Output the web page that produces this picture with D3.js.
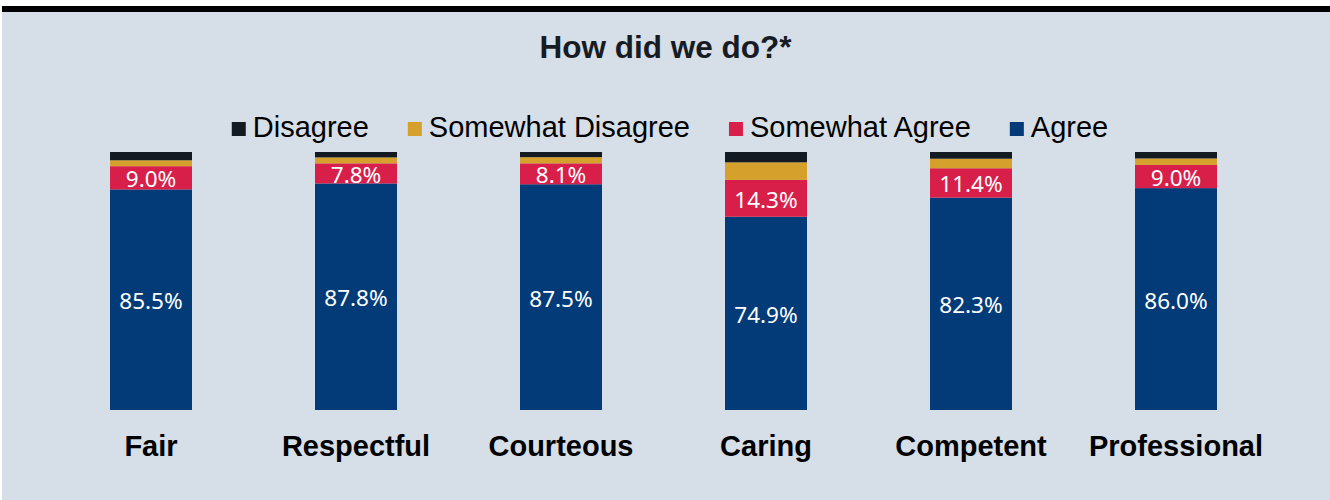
<!DOCTYPE html>
<html>
<head>
<meta charset="utf-8">
<script src="https://cdn.jsdelivr.net/npm/d3@7"></script>
<style>
  html, body { margin: 0; padding: 0; background: #ffffff; }
  svg { display: block; }
</style>
</head>
<body>
<svg id="chart" width="1330" height="500"></svg>
<script>
// Survey results, percent of responses per attribute
const categories = ["Fair", "Respectful", "Courteous", "Caring", "Competent", "Professional"];
const agree            = [85.5, 87.8, 87.5, 74.9, 82.3, 86.0];
const somewhatAgree    = [9.0, 7.8, 8.1, 14.3, 11.4, 9.0];
const somewhatDisagree = [2.3, 2.3, 2.4, 6.8, 3.7, 2.5];
const disagree         = [3.2, 2.1, 2.0, 4.0, 2.6, 2.5];

const seriesNames  = ["Agree", "Somewhat Agree", "Somewhat Disagree", "Disagree"];
const legendOrder  = ["Disagree", "Somewhat Disagree", "Somewhat Agree", "Agree"];
const labelled     = ["Agree", "Somewhat Agree"];
const colors = {
  "Agree": "#023b77",
  "Somewhat Agree": "#d71f4a",
  "Somewhat Disagree": "#d5a02b",
  "Disagree": "#141a22"
};

const rows = categories.map((c, i) => ({
  category: c,
  "Agree": agree[i],
  "Somewhat Agree": somewhatAgree[i],
  "Somewhat Disagree": somewhatDisagree[i],
  "Disagree": disagree[i]
}));

const svg = d3.select("#chart");
const W = 1330, H = 500;

// panel background with dark top rule
svg.append("rect").attr("x", 2).attr("y", 12).attr("width", W - 2).attr("height", H - 12).attr("fill", "#d6dee7");
svg.append("rect").attr("x", 2).attr("y", 6).attr("width", W - 2).attr("height", 6).attr("fill", "#000000");

// title
svg.append("text")
  .attr("x", 665.5).attr("y", 58)
  .attr("text-anchor", "middle")
  .attr("font-family", "Liberation Sans, Arial, sans-serif")
  .attr("font-weight", "bold")
  .attr("font-size", 31.5)
  .attr("fill", "#161b24")
  .text("How did we do?*");

const x = d3.scaleBand()
  .domain(categories)
  .range([48.5, 1278.5])
  .paddingInner(0.6)
  .paddingOuter(0.3);

const y = d3.scaleLinear().domain([0, 100]).range([410, 152]);

const stacked = d3.stack().keys(seriesNames)(rows);

const layers = svg.append("g").selectAll("g")
  .data(stacked)
  .join("g")
  .attr("fill", d => colors[d.key]);

layers.selectAll("rect")
  .data(d => d.map(v => ({ v, key: d.key })))
  .join("rect")
  .attr("x", d => x(d.v.data.category))
  .attr("width", x.bandwidth())
  .attr("y", d => y(d.v[1]))
  .attr("height", d => y(d.v[0]) - y(d.v[1]));

// value labels on the two agree segments
const labelLayers = stacked.filter(s => labelled.includes(s.key));
svg.append("g").selectAll("g")
  .data(labelLayers)
  .join("g")
  .selectAll("text")
  .data(d => d.map(v => ({ v, key: d.key })))
  .join("text")
  .attr("x", d => x(d.v.data.category) + x.bandwidth() / 2)
  .attr("y", d => (y(d.v[0]) + y(d.v[1])) / 2)
  .attr("dy", "0.42em")
  .attr("text-anchor", "middle")
  .attr("font-family", "Noto Sans, Open Sans, sans-serif")
  .attr("font-size", 22.5)
  .attr("fill", "#ffffff")
  .text(d => d3.format(".1f")(d.v.data[d.key]) + "%");

// category axis
const xAxis = svg.append("g")
  .attr("transform", "translate(0,410)")
  .call(d3.axisBottom(x).tickSize(0).tickPadding(0));
xAxis.select(".domain").remove();
xAxis.selectAll("text")
  .attr("y", 46)
  .attr("dy", "0")
  .attr("font-family", "Liberation Sans, Arial, sans-serif")
  .attr("font-weight", "bold")
  .attr("font-size", 29)
  .attr("fill", "#000000");

// legend laid out left to right, centred over the bars
const legend = svg.append("g");
const items = legend.selectAll("g").data(legendOrder).join("g");
items.append("rect")
  .attr("width", 14).attr("height", 14)
  .attr("y", 122)
  .attr("fill", d => colors[d]);
items.append("text")
  .attr("x", 21).attr("y", 137)
  .attr("font-family", "Liberation Sans, Arial, sans-serif")
  .attr("font-size", 29)
  .attr("fill", "#000000")
  .text(d => d);
let cursor = 0;
items.each(function () {
  const g = d3.select(this);
  g.attr("transform", `translate(${cursor},0)`);
  const tw = g.select("text").node().getComputedTextLength();
  cursor += 21 + tw + 39;
});
const total = cursor - 39;
legend.attr("transform", `translate(${670 - total / 2},0)`);
</script>
</body>
</html>
